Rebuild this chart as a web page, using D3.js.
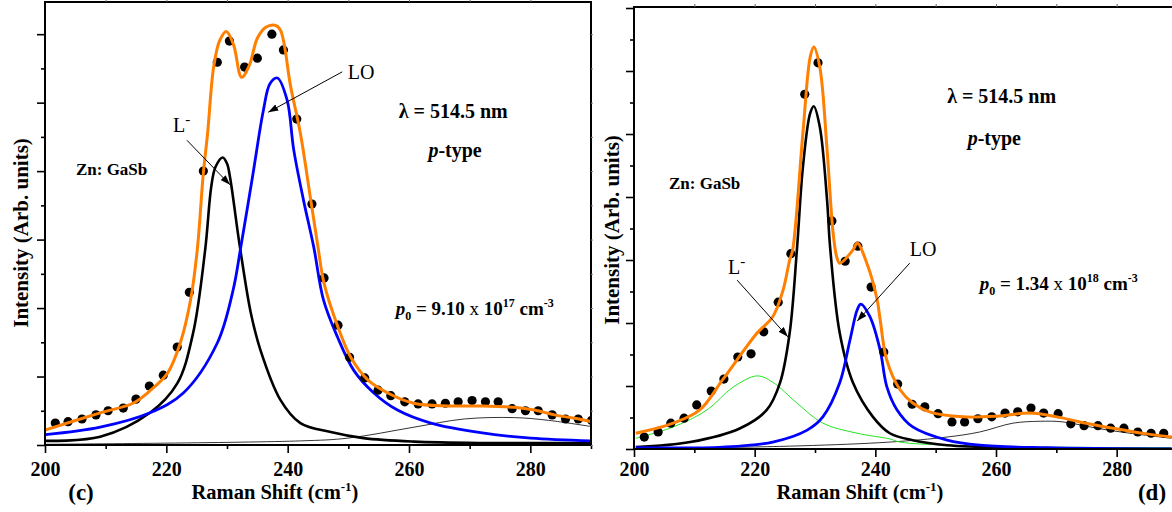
<!DOCTYPE html>
<html>
<head>
<meta charset="utf-8">
<script src="https://cdn.jsdelivr.net/npm/d3@7"></script>
<style>
  body { margin: 0; background: #fff; }
  svg { display: block; }
</style>
</head>
<body>
<svg id="chart" width="1172" height="512"></svg>
<script>
// ---- values ----
const xMajor = [200, 220, 240, 260, 280];
const xMinor = [210, 230, 250, 270, 290];
const xTop = [210, 220, 230, 240, 250, 260, 270, 280];

// panel (c): p0 = 9.10e17
const yMajorC = [0, 1, 2, 3, 4, 5, 6];
const yMinorC = [0.5, 1.5, 2.5, 3.5, 4.5, 5.5];
const dotsC = [[201.7,0.32],[203.8,0.34],[206.1,0.38],[208.4,0.44],[210.4,0.50],[212.9,0.54],[215.0,0.67],[217.2,0.86],[219.5,1.02],[221.8,1.43],[223.8,2.23],[226.1,4.00],[228.4,5.59],[230.4,5.90],[232.9,5.52],[235.0,5.65],[237.4,6.00],[239.3,5.77],[241.5,4.76],[244.0,3.52],[246.0,2.44],[248.3,1.75],[250.2,1.28],[252.7,0.98],[254.9,0.80],[257.0,0.72],[259.3,0.63],[261.5,0.60],[263.8,0.60],[266.0,0.61],[268.1,0.63],[270.4,0.65],[272.6,0.63],[274.7,0.63],[277.0,0.53],[279.2,0.50],[281.3,0.50],[283.6,0.44],[285.8,0.38],[287.9,0.38],[290.1,0.36]];
const fitC = [[200.1,0.22],[209.1,0.47],[214.5,0.61],[217.4,0.80],[220.2,1.05],[222.3,1.49],[224.0,2.12],[225.1,2.85],[226.1,3.97],[226.8,4.55],[227.8,5.52],[228.8,5.91],[229.9,6.04],[231.1,5.84],[232.4,5.37],[233.7,5.55],[235.0,5.94],[236.4,6.10],[237.9,6.13],[238.8,6.06],[240.5,5.23],[242.1,4.55],[243.8,3.58],[245.0,2.89],[246.0,2.36],[248.3,1.72],[250.4,1.28],[253.2,0.95],[256.5,0.76],[260.8,0.61],[266.4,0.57],[271.9,0.57],[277.4,0.55],[280.7,0.51],[284.0,0.44],[287.3,0.39],[290.1,0.34]];
const lMinusC = [[200.1,0.06],[209.1,0.12],[217.3,0.47],[221.8,0.90],[224.4,1.63],[226.4,2.85],[227.4,3.77],[228.1,4.06],[229.3,4.20],[230.0,4.11],[230.5,3.91],[231.8,3.09],[232.2,2.85],[233.9,1.94],[235.5,1.39],[238.8,0.66],[242.1,0.32],[247.1,0.19],[252.5,0.10],[260.8,0.05],[271.8,0.03],[290.0,0.03]];
const loC = [[200.1,0.15],[209.1,0.26],[217.3,0.47],[222.8,0.76],[228.4,1.49],[231.0,2.26],[232.2,2.85],[234.3,3.97],[236.0,4.89],[237.1,5.28],[238.3,5.36],[239.9,5.04],[241.0,4.31],[242.6,3.58],[244.3,2.89],[245.9,2.12],[248.2,1.58],[250.9,1.09],[254.2,0.76],[258.1,0.51],[263.6,0.32],[271.8,0.18],[280.1,0.10],[290.0,0.06]];
const bgC = [[200.1,0.01],[242.1,0.06],[249.9,0.10],[260.8,0.26],[269.1,0.38],[277.4,0.40],[283.0,0.36],[290.0,0.27]];

// panel (d): p0 = 1.34e18
const yMajorD = [0, 1, 2, 3, 4, 5, 6, 7];
const yMinorD = [0.5, 1.5, 2.5, 3.5, 4.5, 5.5, 6.5];
const dotsD = [[201.7,0.19],[204.0,0.27],[206.1,0.41],[208.3,0.49],[210.4,0.70],[212.8,0.92],[214.9,1.11],[217.2,1.46],[219.4,1.51],[221.5,1.86],[223.9,2.33],[226.0,3.10],[228.3,5.63],[230.5,6.13],[232.8,3.62],[235.0,2.98],[237.1,3.22],[239.3,2.57],[241.4,1.54],[243.7,1.03],[246.1,0.71],[248.2,0.67],[250.4,0.56],[252.7,0.43],[254.8,0.43],[257.0,0.48],[259.3,0.51],[261.5,0.57],[263.6,0.59],[265.8,0.65],[267.9,0.57],[270.3,0.56],[272.4,0.40],[274.6,0.37],[276.9,0.37],[279.0,0.33],[281.2,0.33],[283.5,0.27],[285.7,0.25],[287.8,0.25]];
const fitD = [[200.3,0.25],[206.5,0.41],[210.9,0.62],[214.7,1.10],[220.4,1.84],[223.0,2.10],[224.7,2.52],[225.8,3.00],[226.3,3.16],[228.0,5.02],[229.2,6.22],[229.8,6.38],[230.8,6.06],[232.0,4.75],[233.0,3.43],[233.6,3.05],[234.1,2.95],[236.3,3.16],[237.0,3.27],[238.7,2.92],[240.3,2.37],[240.8,2.05],[241.9,1.41],[244.1,0.94],[246.2,0.73],[249.0,0.59],[254.5,0.51],[260.1,0.52],[265.6,0.57],[270.1,0.51],[273.9,0.43],[279.4,0.33],[285.0,0.24],[289.2,0.19]];
const lMinusD = [[200.3,0.03],[209.3,0.11],[217.6,0.33],[222.0,0.62],[224.2,1.05],[225.8,1.84],[227.0,3.16],[228.0,4.48],[229.2,5.33],[229.8,5.44],[230.8,5.11],[232.0,3.95],[232.5,3.21],[234.1,1.84],[236.3,1.05],[239.6,0.51],[242.4,0.25],[246.2,0.14],[251.9,0.06],[262.8,0.02],[289.1,0.0]];
const loD = [[200.3,0.02],[214.7,0.03],[223.0,0.11],[228.7,0.30],[231.3,0.51],[234.1,1.05],[235.8,1.73],[237.0,2.21],[237.6,2.30],[239.1,2.10],[240.8,1.57],[241.9,0.99],[243.6,0.62],[246.2,0.35],[251.9,0.14],[257.3,0.06],[268.4,0.02],[289.1,0.0]];
const greenD = [[200.3,0.17],[206.5,0.35],[212.1,0.62],[216.4,0.98],[220.4,1.16],[223.0,1.06],[227.0,0.73],[231.3,0.41],[237.0,0.25],[242.4,0.16],[244.1,0.11],[252.4,0.06],[268.9,0.03],[289.1,0.02]];
const bgD = [[200.3,0.0],[227.5,0.05],[242.4,0.11],[251.9,0.19],[257.3,0.27],[262.8,0.41],[267.3,0.44],[271.1,0.43],[276.7,0.33],[282.2,0.25],[289.1,0.17]];

// ---- drawing ----
const FONT = "'Liberation Serif', 'Times New Roman', serif";
const svg = d3.select("#chart");

const defs = svg.append("defs");
defs.append("marker")
    .attr("id", "arrow")
    .attr("markerUnits", "userSpaceOnUse")
    .attr("markerWidth", 10).attr("markerHeight", 7)
    .attr("refX", 10).attr("refY", 3.5)
    .attr("orient", "auto")
  .append("path")
    .attr("d", "M0,0 L10,3.5 L0,7 z")
    .attr("fill", "#000");

const panels = [
  {
    id: "c", box: { left: 45, right: 591, top: 2, bottom: 445 }, yMax: 6.47,
    yMajor: yMajorC, yMinor: yMinorC,
    dots: dotsC, fit: fitC, lMinus: lMinusC, lo: loC, bg: bgC, green: null,
    tickDy: 17, xLabelX: 275, yLabelX: 28, yLabelY: 233,
    tag: "(c)", tagX: 81,
    zn: [205.1, 3.94], lambda: [258.3, 4.77], ptype: [263.2, 4.20],
    p0: [257.8, 1.90], p0Val: "9.10", p0Exp: "17",
    lLabel: [221.1, 4.57], lArrow: [[223.4, 4.45], [230.5, 3.80]],
    loLabel: [249.9, 5.34], loArrow: [[249.0, 5.45], [236.8, 4.86]]
  },
  {
    id: "d", box: { left: 634, right: 1177, top: 7, bottom: 449 }, yMax: 7.016,
    yMajor: yMajorD, yMinor: yMinorD,
    dots: dotsD, fit: fitD, lMinus: lMinusD, lo: loD, bg: bgD, green: greenD,
    tickDy: 13, xLabelX: 860, yLabelX: 619, yLabelY: 230,
    tag: "(d)", tagX: 1152,
    zn: [205.8, 4.13], lambda: [251.9, 5.49], ptype: [255.3, 4.83],
    p0: [257.3, 2.52], p0Val: "1.34", p0Exp: "18",
    lLabel: [215.6, 2.78], lArrow: [[217.1, 2.68], [225.5, 1.78]],
    loLabel: [245.7, 3.06], loArrow: [[245.7, 2.95], [237.0, 2.03]]
  }
];

panels.forEach(drawPanel);

function drawPanel(p) {
  const b = p.box;
  const x = d3.scaleLinear().domain([200, 290]).range([b.left, b.right]);
  const y = d3.scaleLinear().domain([0, p.yMax]).range([b.bottom, b.top]);
  const g = svg.append("g");

  defs.append("clipPath").attr("id", "clip-" + p.id)
    .append("rect")
      .attr("x", b.left).attr("y", b.top)
      .attr("width", b.right - b.left).attr("height", b.bottom - b.top);

  const plot = g.append("g").attr("clip-path", `url(#clip-${p.id})`);
  const line = d3.line()
      .x(d => x(d[0]))
      .y(d => y(d[1]))
      .curve(d3.curveCatmullRom.alpha(0.5));

  plot.append("path").datum(p.bg).attr("d", line)
      .attr("fill", "none").attr("stroke", "#000").attr("stroke-width", 0.8);
  if (p.green) {
    plot.append("path").datum(p.green).attr("d", line)
        .attr("fill", "none").attr("stroke", "#22e622").attr("stroke-width", 1);
  }
  plot.append("path").datum(p.lMinus).attr("d", line)
      .attr("fill", "none").attr("stroke", "#000").attr("stroke-width", 2.6);
  plot.append("path").datum(p.lo).attr("d", line)
      .attr("fill", "none").attr("stroke", "#0000ff").attr("stroke-width", 2.8);
  plot.selectAll("circle").data(p.dots).enter().append("circle")
      .attr("cx", d => x(d[0])).attr("cy", d => y(d[1]))
      .attr("r", 4.6).attr("fill", "#000");
  plot.append("path").datum(p.fit).attr("d", line)
      .attr("fill", "none").attr("stroke", "#ff7f00").attr("stroke-width", 3);

  // frame
  g.append("rect")
      .attr("x", b.left).attr("y", b.top)
      .attr("width", b.right - b.left).attr("height", b.bottom - b.top)
      .attr("fill", "none").attr("stroke", "#000").attr("stroke-width", 2);

  // bottom axis
  const xAx = g.append("g").attr("transform", `translate(0,${b.bottom})`)
      .call(d3.axisBottom(x).tickValues(xMajor).tickSize(8).tickSizeOuter(0));
  g.append("g").attr("transform", `translate(0,${b.bottom})`)
      .call(d3.axisBottom(x).tickValues(xMinor).tickSize(4).tickSizeOuter(0).tickFormat(""));
  g.append("g").attr("transform", `translate(0,${b.top})`)
      .call(d3.axisTop(x).tickValues(xTop).tickSize(3).tickSizeOuter(0).tickFormat(""))
      .selectAll(".tick line").attr("stroke", "#666");
  xAx.selectAll("text")
      .attr("y", p.tickDy).attr("dy", "0.71em")
      .attr("font-family", FONT).attr("font-size", 20).attr("font-weight", "bold")
      .attr("fill", "#000");

  // left axis
  g.append("g").attr("transform", `translate(${b.left},0)`)
      .call(d3.axisLeft(y).tickValues(p.yMajor).tickSize(8).tickSizeOuter(0).tickFormat(""));
  g.append("g").attr("transform", `translate(${b.left},0)`)
      .call(d3.axisLeft(y).tickValues(p.yMinor).tickSize(4).tickSizeOuter(0).tickFormat(""));
  g.append("g").attr("transform", `translate(${b.right},0)`)
      .call(d3.axisRight(y).tickValues(p.yMajor.concat(p.yMinor)).tickSize(2).tickSizeOuter(0).tickFormat(""))
      .selectAll(".tick line").attr("stroke", "#888");

  g.selectAll(".domain").remove();
  g.selectAll(".tick line").filter(function() { return this.getAttribute("stroke") === "currentColor"; })
      .attr("stroke-width", 1.6);

  // axis titles
  const xt = g.append("text")
      .attr("x", p.xLabelX).attr("y", 499)
      .attr("text-anchor", "middle")
      .attr("font-family", FONT).attr("font-size", 20.5).attr("font-weight", "bold");
  xt.append("tspan").text("Raman Shift (cm");
  xt.append("tspan").attr("dy", -8).attr("font-size", 13).text("-1");
  xt.append("tspan").attr("dy", 8).text(")");

  g.append("text")
      .attr("transform", `translate(${p.yLabelX},${p.yLabelY}) rotate(-90)`)
      .attr("text-anchor", "middle")
      .attr("font-family", FONT).attr("font-size", 21).attr("font-weight", "bold")
      .text("Intensity (Arb. units)");

  g.append("text")
      .attr("x", p.tagX).attr("y", 500)
      .attr("text-anchor", "middle")
      .attr("font-family", FONT).attr("font-size", 23).attr("font-weight", "bold")
      .text(p.tag);

  // annotations
  const ann = g.append("g").attr("font-family", FONT).attr("fill", "#000");

  ann.append("text")
      .attr("x", x(p.zn[0])).attr("y", y(p.zn[1]))
      .attr("font-size", 17).attr("font-weight", "bold")
      .text("Zn: GaSb");

  ann.append("text")
      .attr("x", x(p.lambda[0])).attr("y", y(p.lambda[1]))
      .attr("font-size", 20).attr("font-weight", "bold")
      .text("\u03bb = 514.5 nm");

  const pt = ann.append("text")
      .attr("x", x(p.ptype[0])).attr("y", y(p.ptype[1]))
      .attr("font-size", 20).attr("font-weight", "bold");
  pt.append("tspan").attr("font-style", "italic").text("p");
  pt.append("tspan").text("-type");

  const p0 = ann.append("text")
      .attr("x", x(p.p0[0])).attr("y", y(p.p0[1]))
      .attr("font-size", 19).attr("font-weight", "bold");
  p0.append("tspan").attr("font-style", "italic").text("p");
  p0.append("tspan").attr("dy", 5).attr("font-size", 12).text("0");
  p0.append("tspan").attr("dy", -5).text(" = " + p.p0Val + " ");
  p0.append("tspan").attr("font-weight", "normal").text("x");
  p0.append("tspan").text(" 10");
  p0.append("tspan").attr("dy", -8).attr("font-size", 12).text(p.p0Exp);
  p0.append("tspan").attr("dy", 8).text(" cm");
  p0.append("tspan").attr("dy", -8).attr("font-size", 12).text("-3");

  const lt = ann.append("text")
      .attr("x", x(p.lLabel[0])).attr("y", y(p.lLabel[1]))
      .attr("font-size", 20);
  lt.append("tspan").text("L");
  lt.append("tspan").attr("dy", -8).attr("font-size", 15).text("-");

  ann.append("text")
      .attr("x", x(p.loLabel[0])).attr("y", y(p.loLabel[1]))
      .attr("font-size", 20)
      .text("LO");

  [p.lArrow, p.loArrow].forEach(a => {
    ann.append("line")
        .attr("x1", x(a[0][0])).attr("y1", y(a[0][1]))
        .attr("x2", x(a[1][0])).attr("y2", y(a[1][1]))
        .attr("stroke", "#000").attr("stroke-width", 1)
        .attr("marker-end", "url(#arrow)");
  });
}
</script>
</body>
</html>
